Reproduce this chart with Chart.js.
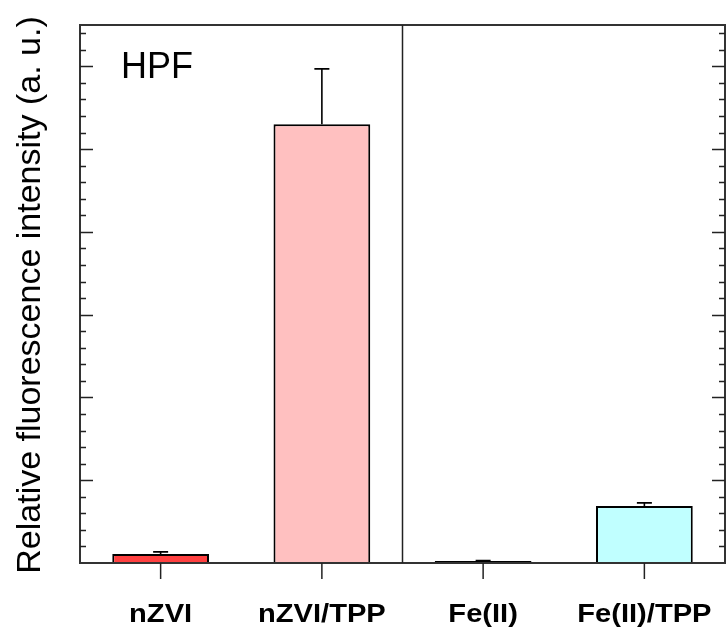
<!DOCTYPE html>
<html>
<head>
<meta charset="utf-8">
<script src="https://cdn.jsdelivr.net/npm/chart.js@4"></script>
<style>
  html, body { margin: 0; padding: 0; background: #fff; }
  #c { display: block; }
</style>
</head>
<body>
<canvas id="c" width="726" height="632"></canvas>
<script>
// datos (unidades arbitrarias)
const categorias = ['nZVI', 'nZVI/TPP', 'Fe(II)', 'Fe(II)/TPP'];
const intensidad = [0.11, 5.30, 0.025, 0.69];
const errorSup = [0.025, 0.67, 0.005, 0.036];
const colores = ['#ff4040', '#ffc0c0', '#202020', '#c0ffff'];
const yMax = 6.5;
const tituloY = 'Relative fluorescence intensity (a. u.)';
const etiqueta = 'HPF';

const decoraciones = {
  id: 'decoraciones',
  afterDatasetsDraw(chart) {
    const ctx = chart.ctx;
    const a = chart.chartArea;
    const x = chart.scales.x, y = chart.scales.y;
    ctx.save();

    // barras de error (solo hacia arriba)
    ctx.strokeStyle = '#000'; ctx.lineWidth = 1.6;
    intensidad.forEach((v, i) => {
      const px = x.getPixelForValue(i);
      const y0 = y.getPixelForValue(v), y1 = y.getPixelForValue(v + errorSup[i]);
      ctx.beginPath();
      ctx.moveTo(px, y0); ctx.lineTo(px, y1);
      ctx.moveTo(px - 7.5, y1); ctx.lineTo(px + 7.5, y1);
      ctx.stroke();
    });

    // marco
    ctx.strokeStyle = '#333'; ctx.lineWidth = 2;
    ctx.strokeRect(a.left, a.top, a.right - a.left, a.bottom - a.top);

    // separador entre grupos
    const xs = (x.getPixelForValue(1) + x.getPixelForValue(2)) / 2;
    ctx.lineWidth = 1.5; ctx.strokeStyle = '#222';
    ctx.beginPath(); ctx.moveTo(xs, a.top); ctx.lineTo(xs, a.bottom); ctx.stroke();

    // marcas del eje y hacia dentro
    ctx.strokeStyle = '#222'; ctx.lineWidth = 1.5;
    for (let k = 1; k * 0.2 < yMax; k++) {
      const py = Math.round(y.getPixelForValue(k * 0.2)) + 0.5;
      const len = k % 5 === 0 ? 13 : 6;
      ctx.beginPath();
      ctx.moveTo(a.left, py); ctx.lineTo(a.left + len, py);
      ctx.moveTo(a.right, py); ctx.lineTo(a.right - len, py);
      ctx.stroke();
    }

    // marcas del eje x hacia fuera
    categorias.forEach((c, i) => {
      const px = x.getPixelForValue(i);
      ctx.beginPath(); ctx.moveTo(px, a.bottom); ctx.lineTo(px, a.bottom + 16); ctx.stroke();
    });

    // etiquetas de categoría
    ctx.fillStyle = '#000';
    ctx.textAlign = 'center'; ctx.textBaseline = 'alphabetic';
    ctx.font = 'bold 26px "Liberation Sans", Arial, sans-serif';
    categorias.forEach((c, i) => {
      const px = x.getPixelForValue(i);
      ctx.save();
      ctx.translate(px, 622);
      ctx.scale(1.12, 1);
      ctx.fillText(c, 0, 0);
      ctx.restore();
    });

    // título del eje y
    ctx.save();
    ctx.translate(40, (a.top + a.bottom) / 2 + 1);
    ctx.rotate(-Math.PI / 2);
    ctx.font = '34px "Liberation Sans", Arial, sans-serif';
    ctx.fillText(tituloY, 0, 0);
    ctx.restore();

    // etiqueta HPF
    ctx.textAlign = 'left';
    ctx.font = '36px "Liberation Sans", Arial, sans-serif';
    ctx.fillText(etiqueta, 121, 78);

    ctx.restore();
  }
};

new Chart(document.getElementById('c'), {
  type: 'bar',
  data: {
    labels: categorias,
    datasets: [{
      data: intensidad,
      backgroundColor: colores,
      borderColor: '#000',
      borderWidth: 2,
      categoryPercentage: 1,
      barPercentage: 0.6
    }]
  },
  options: {
    responsive: false,
    animation: false,
    devicePixelRatio: 1,
    layout: { padding: { left: 80, right: 1, top: 25, bottom: 69 } },
    plugins: { legend: { display: false }, tooltip: { enabled: false } },
    scales: {
      x: { display: false, offset: true },
      y: { display: false, min: 0, max: yMax }
    }
  },
  plugins: [decoraciones]
});
</script>
</body>
</html>
